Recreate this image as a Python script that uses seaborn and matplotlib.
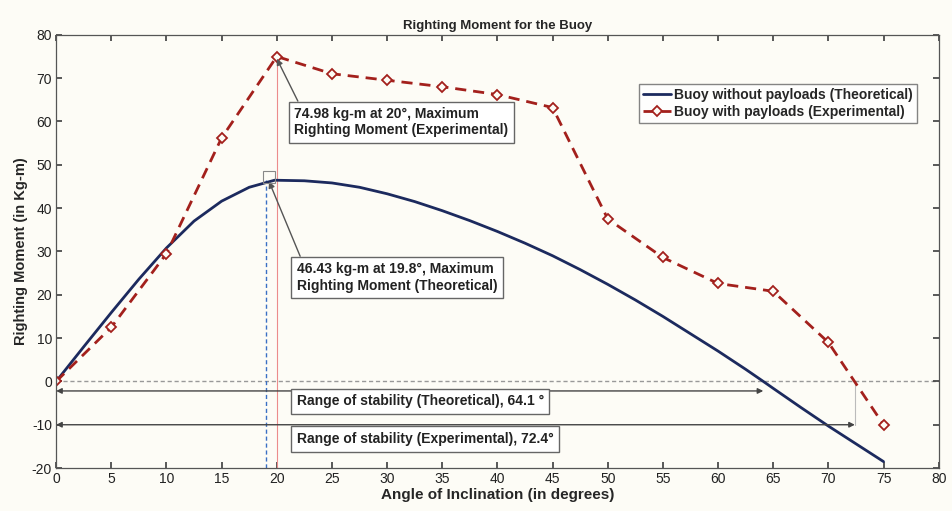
import numpy as np
import pandas as pd
import matplotlib
matplotlib.use("Agg")
import matplotlib.pyplot as plt
import seaborn as sns

# theoretical curve
theo_angle = [0, 2.5, 5, 7.5, 10, 12.5, 15, 17.5, 19.8, 22.5, 25, 27.5, 30, 32.5, 35, 37.5,
              40, 42.5, 45, 47.5, 50, 52.5, 55, 57.5, 60, 62.5, 64.1, 65, 67.5, 70, 72.5, 75]
theo_moment = [0, 8.0, 15.9, 23.6, 30.8, 37.0, 41.6, 44.8, 46.43, 46.3, 45.8, 44.8, 43.3, 41.5,
               39.4, 37.1, 34.6, 31.9, 29.0, 25.8, 22.4, 18.8, 15.0, 11.0, 7.0, 2.8, 0, -1.6,
               -6.0, -10.3, -14.4, -18.5]

# experimental points
exp_angle = [0, 5, 10, 15, 20, 25, 30, 35, 40, 45, 50, 55, 60, 65, 70, 75]
exp_moment = [0, 12.5, 29.5, 56.2, 74.98, 71.0, 69.5, 68.0, 66.2, 63.2, 37.5, 28.6, 22.6, 20.8, 9.0, -10.0]

theo_peak = (19.8, 46.43)
exp_peak = (20, 74.98)
theo_guide_x = 19.0  # where the dashed marker line sits in the figure
theo_range = 64.1
exp_range = 72.4

bg = "#fdfcf6"
navy = "#1c2a5e"
darkred = "#a3201c"

sns.set_theme(style="ticks")
plt.rcParams["font.family"] = ["Liberation Sans", "DejaVu Sans"]
plt.rcParams["axes.unicode_minus"] = False

fig = plt.figure(figsize=(9.52, 5.11), dpi=100, facecolor=bg)
ax = fig.add_axes([0.059, 0.084, 0.927, 0.848])
ax.set_facecolor(bg)

theo = pd.DataFrame({"angle": theo_angle, "moment": theo_moment})
expd = pd.DataFrame({"angle": exp_angle, "moment": exp_moment})

sns.lineplot(data=theo, x="angle", y="moment", ax=ax, color=navy, lw=2,
             label="Buoy without payloads (Theoretical)")
sns.lineplot(data=expd, x="angle", y="moment", ax=ax, color=darkred, lw=2,
             linestyle=(0, (4, 2.5)), marker="D", markersize=5,
             markerfacecolor=bg, markeredgecolor=darkred, markeredgewidth=1.3,
             label="Buoy with payloads (Experimental)")

# guide lines
ax.axhline(0, color="#999999", lw=1, ls=(0, (3, 2)), zorder=0)
ax.plot([theo_guide_x] * 2, [-20, theo_peak[1]], color="#3a6fc4", lw=1, ls=(0, (3, 2)), zorder=1)
ax.plot([exp_peak[0]] * 2, [-20, exp_peak[1]], color="#ec8c8c", lw=0.8, zorder=1)
ax.plot([exp_range] * 2, [-10, 0], color="#bbbbbb", lw=0.8, zorder=1)
ax.plot(theo_guide_x + 0.3, theo_peak[1] + 0.8, marker="s", markersize=8, markerfacecolor="none",
        markeredgecolor="#888888", markeredgewidth=0.8, zorder=4)

box = dict(boxstyle="square,pad=0.4", fc="white", ec="#666666", lw=1)
arrow = dict(arrowstyle="-|>", color="#555555", lw=1, shrinkA=0, shrinkB=0,
             mutation_scale=9, relpos=(0.03, 1))

ax.annotate("74.98 kg-m at 20°, Maximum\nRighting Moment (Experimental)",
            xy=(exp_peak[0], exp_peak[1] - 0.5), xytext=(21.6, 59.8), ha="left", va="center",
            fontsize=10, fontweight="bold", color="#222222", bbox=box, arrowprops=arrow,
            linespacing=1.2)
ax.annotate("46.43 kg-m at 19.8°, Maximum\nRighting Moment (Theoretical)",
            xy=(theo_guide_x + 0.3, theo_peak[1] - 0.3), xytext=(21.8, 24.0), ha="left", va="center",
            fontsize=10, fontweight="bold", color="#222222", bbox=box, arrowprops=arrow,
            linespacing=1.2)

darrow = dict(arrowstyle="<|-|>", color="#444444", lw=1, shrinkA=0, shrinkB=0, mutation_scale=8)
ax.annotate("", xy=(0, -2.2), xytext=(theo_range, -2.2), arrowprops=darrow)
ax.annotate("", xy=(0, -10), xytext=(exp_range, -10), arrowprops=darrow)
ax.text(21.8, -4.6, f"Range of stability (Theoretical), {theo_range} °", fontsize=10,
        fontweight="bold", color="#222222", va="center", ha="left", bbox=box)
ax.text(21.8, -13.3, f"Range of stability (Experimental), {exp_range}°", fontsize=10,
        fontweight="bold", color="#222222", va="center", ha="left", bbox=box)

ax.set_xlim(0, 80)
ax.set_ylim(-20, 80)
ax.set_xticks(range(0, 81, 5))
ax.set_yticks(range(-20, 81, 10))
ax.tick_params(direction="in", top=True, right=True, labelsize=10, length=4,
               color="#444444", labelcolor="#222222", pad=3)
for s in ax.spines.values():
    s.set_color("#555555")
    s.set_linewidth(0.9)

ax.set_xlabel("Angle of Inclination (in degrees)", fontsize=11, fontweight="bold", labelpad=1)
ax.set_ylabel("Righting Moment (in Kg-m)", fontsize=10.5, fontweight="bold", labelpad=3)
ax.set_title("Righting Moment for the Buoy", fontsize=9.5, fontweight="bold", pad=4)

leg = ax.legend(loc="upper right", bbox_to_anchor=(0.975, 0.886), fontsize=10,
                frameon=True, fancybox=False, edgecolor="#666666", handlelength=2.0,
                handletextpad=0.2, borderpad=0.3, labelspacing=0.2, borderaxespad=0)
leg.get_frame().set_facecolor("white")
for t in leg.get_texts():
    t.set_fontweight("bold")

fig.savefig("out.png", dpi=100, facecolor=bg)
